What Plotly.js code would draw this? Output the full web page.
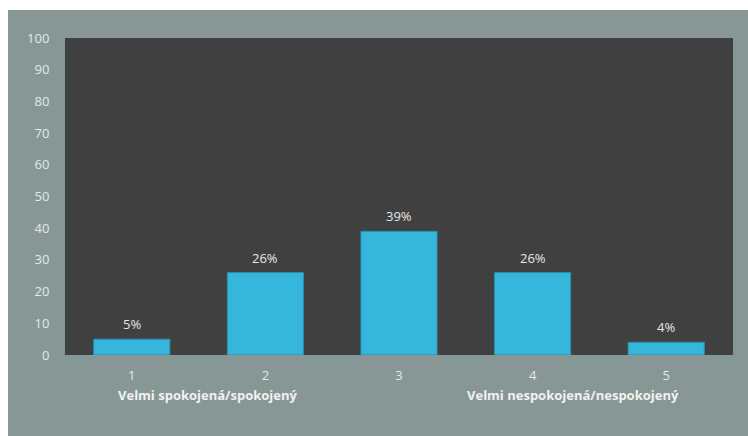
<!DOCTYPE html>
<html>
<head>
<meta charset="utf-8">
<script src="https://cdn.plot.ly/plotly-3.0.1.min.js"></script>
<style>
html,body{margin:0;padding:0;background:#ffffff;}
#chart{position:absolute;left:8px;top:10px;width:740px;height:426px;}
</style>
</head>
<body>
<div id="chart"></div>
<script>
var categories = [1, 2, 3, 4, 5];
var tickLabels = ['1', '2', '3', '4', '5'];
var values = [5, 26, 39, 26, 4];
var valueLabels = ['5%', '26%', '39%', '26%', '4%'];
var scaleLabels = ['Velmi spokojená/spokojený', 'Velmi nespokojená/nespokojený'];
var scaleLabelX = [1.57, 4.3];

var fontFam = '"Open Sans", sans-serif';

var trace = {
  type: 'bar',
  x: categories,
  y: values,
  width: 0.57,
  marker: {
    color: '#36b6da',
    line: {color: '#2a8fae', width: 1}
  },
  hoverinfo: 'none'
};

var annotations = [];
for (var i = 0; i < categories.length; i++) {
  annotations.push({
    x: categories[i], y: values[i], xref: 'x', yref: 'y',
    text: valueLabels[i], showarrow: false, yshift: 15,
    font: {family: fontFam, size: 13, color: '#e8e8e8'}
  });
}
for (var j = 0; j < scaleLabels.length; j++) {
  annotations.push({
    x: scaleLabelX[j], y: 0, xref: 'x', yref: 'y',
    text: '<b>' + scaleLabels[j] + '</b>', showarrow: false, yshift: -40,
    font: {family: fontFam, size: 13, color: '#f2f2f2'}
  });
}

var layout = {
  width: 740, height: 426,
  margin: {l: 57, r: 15, t: 28, b: 81},
  paper_bgcolor: '#869795',
  plot_bgcolor: '#404040',
  showlegend: false,
  font: {family: fontFam, size: 13, color: '#e8e8e8'},
  xaxis: {
    range: [0.5, 5.5],
    tickvals: categories,
    ticktext: tickLabels,
    showgrid: false, zeroline: false, showline: false,
    ticks: 'outside', ticklen: 8, tickcolor: 'rgba(0,0,0,0)',
    tickfont: {family: fontFam, size: 13, color: '#e8e8e8'}
  },
  yaxis: {
    range: [0, 100],
    dtick: 10,
    showgrid: false, zeroline: false, showline: false,
    ticks: 'outside', ticklen: 12, tickcolor: 'rgba(0,0,0,0)',
    tickfont: {family: fontFam, size: 13, color: '#e8e8e8'}
  },
  annotations: annotations
};

Plotly.newPlot('chart', [trace], layout, {displayModeBar: false, staticPlot: true});
</script>
</body>
</html>
